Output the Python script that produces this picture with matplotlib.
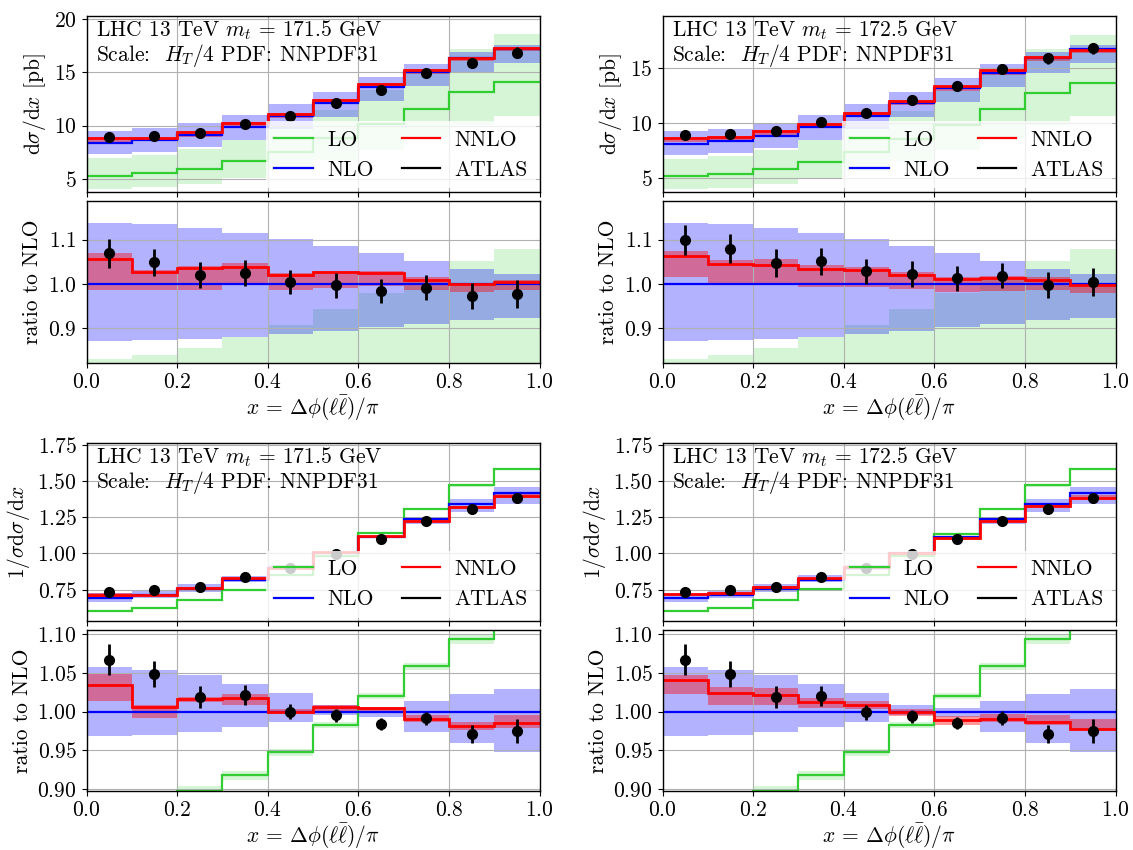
import numpy as np
import matplotlib
matplotlib.use("Agg")
from matplotlib import pyplot as plt
from matplotlib.lines import Line2D

plt.rcParams.update({
    'font.family': 'serif',
    'font.serif': ['cmr10'],
    'mathtext.fontset': 'cm',
    'axes.formatter.use_mathtext': True,
    'font.size': 15.5,
    'axes.linewidth': 1.0,
})

bin_edges = [0.0, 0.1, 0.2, 0.3, 0.4, 0.5, 0.6, 0.7, 0.8, 0.9, 1.0]

# ATLAS measurement
atlas_xsec = [8.95, 9.04, 9.28, 10.10, 10.93, 12.08, 13.37, 14.90, 15.90, 16.82]
atlas_xsec_err = [0.27, 0.27, 0.27, 0.29, 0.30, 0.34, 0.37, 0.42, 0.47, 0.53]
atlas_norm = [0.735, 0.745, 0.766, 0.834, 0.897, 0.996, 1.099, 1.227, 1.306, 1.382]
atlas_norm_err = [0.014, 0.012, 0.011, 0.0105, 0.0085, 0.0085, 0.0085, 0.011, 0.016, 0.022]

# absolute dsigma/dx, NLO central [pb]
nlo_xsec_1715 = [8.37, 8.62, 9.09, 9.85, 10.88, 12.11, 13.57, 15.03, 16.33, 17.20]
nlo_xsec_1725 = [8.14, 8.37, 8.86, 9.61, 10.62, 11.81, 13.20, 14.62, 15.92, 16.73]
# everything else as ratio to NLO
xsec_nlo_up = [1.138, 1.135, 1.127, 1.116, 1.102, 1.085, 1.069, 1.051, 1.035, 1.022]
xsec_nlo_dn = [0.872, 0.873, 0.876, 0.880, 0.888, 0.894, 0.904, 0.911, 0.918, 0.924]
xsec_lo = [0.634, 0.641, 0.655, 0.676, 0.695, 0.728, 0.745, 0.771, 0.803, 0.818]
xsec_lo_up = [0.832, 0.841, 0.856, 0.881, 0.907, 0.944, 0.981, 1.012, 1.053, 1.079]
xsec_lo_dn = [0.486, 0.491, 0.502, 0.517, 0.532, 0.558, 0.571, 0.591, 0.616, 0.636]
xsec_nnlo_1715 = [1.056, 1.027, 1.036, 1.039, 1.021, 1.027, 1.025, 1.010, 1.001, 1.005]
xsec_nnlo_up_1715 = [1.071, 1.031, 1.041, 1.047, 1.025, 1.030, 1.029, 1.016, 1.002, 1.010]
xsec_nnlo_dn_1715 = [0.987, 0.987, 0.987, 0.999, 0.986, 0.992, 0.995, 0.987, 0.983, 0.986]
xsec_nnlo_1725 = [1.063, 1.046, 1.044, 1.035, 1.032, 1.020, 1.011, 1.013, 1.009, 0.998]
xsec_nnlo_up_1725 = [1.074, 1.054, 1.056, 1.043, 1.039, 1.028, 1.017, 1.018, 1.015, 1.003]
xsec_nnlo_dn_1725 = [1.015, 1.000, 0.998, 0.994, 0.994, 0.989, 0.983, 0.984, 0.986, 0.980]

# normalised 1/sigma dsigma/dx
nlo_norm_1715 = [0.689, 0.711, 0.752, 0.817, 0.897, 1.001, 1.117, 1.238, 1.345, 1.417]
nlo_norm_1725 = [0.689, 0.711, 0.752, 0.818, 0.898, 1.002, 1.116, 1.237, 1.345, 1.417]
norm_nlo_up = [1.057, 1.054, 1.047, 1.036, 1.024, 1.009, 1.005, 1.014, 1.023, 1.029]
norm_nlo_dn = [0.968, 0.970, 0.974, 0.980, 0.987, 0.996, 0.993, 0.974, 0.959, 0.948]
norm_lo = [0.868, 0.877, 0.897, 0.918, 0.948, 0.983, 1.020, 1.058, 1.094, 1.120]
norm_lo_up = [0.875, 0.884, 0.904, 0.924, 0.952, 0.987, 1.024, 1.062, 1.099, 1.126]
norm_lo_dn = [0.861, 0.870, 0.890, 0.912, 0.943, 0.979, 1.016, 1.054, 1.087, 1.114]
norm_nnlo_1715 = [1.034, 1.006, 1.016, 1.018, 1.000, 1.006, 1.004, 0.990, 0.981, 0.985]
norm_nnlo_up_1715 = [1.049, 1.008, 1.019, 1.023, 1.003, 1.009, 1.006, 0.996, 0.986, 0.996]
norm_nnlo_dn_1715 = [1.014, 0.992, 1.012, 1.009, 0.997, 0.999, 0.999, 0.986, 0.976, 0.979]
norm_nnlo_1725 = [1.040, 1.024, 1.021, 1.012, 1.009, 0.999, 0.989, 0.991, 0.987, 0.977]
norm_nnlo_up_1725 = [1.047, 1.031, 1.030, 1.017, 1.014, 1.003, 0.994, 0.997, 0.996, 0.991]
norm_nnlo_dn_1725 = [1.023, 1.009, 1.008, 1.004, 1.003, 0.994, 0.982, 0.986, 0.983, 0.976]

c_lo, c_nlo, c_nnlo = 'limegreen', 'blue', 'red'


def draw(ax, axr, nlo, lo, lo_up, lo_dn, nlo_up, nlo_dn, nnlo, nnlo_up, nnlo_dn,
         data, data_err, mass, ylabel, ylim, yticks, rlim, rticks):
    nlo = np.array(nlo)
    data = np.array(data)
    data_err = np.array(data_err)
    centers = 0.5 * (np.array(bin_edges[:-1]) + np.array(bin_edges[1:]))
    for a, scale in ((ax, nlo), (axr, np.ones_like(nlo))):
        a.stairs(np.array(lo_up) * scale, bin_edges, baseline=np.array(lo_dn) * scale,
                 fill=True, color=c_lo, alpha=0.2, lw=0)
        a.stairs(np.array(nlo_up) * scale, bin_edges, baseline=np.array(nlo_dn) * scale,
                 fill=True, color=c_nlo, alpha=0.3, lw=0)
        a.stairs(np.array(nnlo_up) * scale, bin_edges, baseline=np.array(nnlo_dn) * scale,
                 fill=True, color=c_nnlo, alpha=0.4, lw=0)
        a.stairs(np.array(lo) * scale, bin_edges, baseline=None, color=c_lo, lw=1.6, zorder=2)
        a.stairs(scale, bin_edges, baseline=None, color=c_nlo, lw=1.6, zorder=2)
        a.stairs(np.array(nnlo) * scale, bin_edges, baseline=None, color=c_nnlo, lw=2, zorder=2)
        if a is ax:
            a.errorbar(centers, data, yerr=data_err, fmt='o', color='k', ms=7,
                       elinewidth=2, capsize=0, zorder=5)
        else:
            a.errorbar(centers, data / nlo, yerr=data_err / nlo, fmt='o', color='k',
                       ms=7, elinewidth=2, capsize=0, zorder=5)
        a.set_xlim(0, 1)
        a.set_xticks([0.0, 0.2, 0.4, 0.6, 0.8, 1.0])
        a.grid(True)
    ax.set_ylim(*ylim)
    ax.set_yticks(yticks)
    axr.set_ylim(*rlim)
    axr.set_yticks(rticks)
    ax.tick_params(labelbottom=False)
    ax.set_ylabel(ylabel)
    axr.set_ylabel('ratio to NLO')
    axr.set_xlabel(r'$x$ = $\Delta\phi(\ell\bar{\ell})/\pi$', labelpad=1)
    ax.text(0.022, 0.985, 'LHC 13 TeV $m_t$ = %s GeV\nScale:  $H_T/4$ PDF: NNPDF31' % mass,
            transform=ax.transAxes, ha='left', va='top', linespacing=1.0)
    handles = [Line2D([], [], color=c_lo, lw=1.6), Line2D([], [], color=c_nlo, lw=1.6),
               Line2D([], [], color=c_nnlo, lw=1.6), Line2D([], [], color='k', lw=1.6)]
    leg = ax.legend(handles, ['LO', 'NLO', 'NNLO', 'ATLAS'], loc='lower right', ncol=2,
                    frameon=True, framealpha=0.8, edgecolor='none', fancybox=False,
                    borderaxespad=0.15, labelspacing=0.5, handlelength=1.8,
                    handletextpad=0.65, columnspacing=1.3)
    leg.set_zorder(10)


fig = plt.figure(figsize=(11.33, 8.5), dpi=100)
W, H = 1133.0, 850.0


def box(x0, x1, y0, y1):
    return [x0 / W, 1 - y1 / H, (x1 - x0) / W, (y1 - y0) / H]


cols = [(86.5, 539.5), (662.5, 1115.5)]
rows = [((15.7, 191.7), (201, 362.7)), ((442.5, 621), (630, 790.7))]

axes = {}
for i, (m, r) in enumerate(rows):
    for j, (x0, x1) in enumerate(cols):
        axm = fig.add_axes(box(x0, x1, *m))
        axr = fig.add_axes(box(x0, x1, *r))
        axes[(i, j)] = (axm, axr)

xsec_label = r'$\mathrm{d}\sigma/\mathrm{d}x$ [pb]'
norm_label = r'$1/\sigma\mathrm{d}\sigma/\mathrm{d}x$'

draw(*axes[(0, 0)], nlo_xsec_1715, xsec_lo, xsec_lo_up, xsec_lo_dn, xsec_nlo_up, xsec_nlo_dn,
     xsec_nnlo_1715, xsec_nnlo_up_1715, xsec_nnlo_dn_1715, atlas_xsec, atlas_xsec_err,
     '171.5', xsec_label, (3.8, 20.3), [5, 10, 15, 20], (0.823, 1.187), [0.9, 1.0, 1.1])
draw(*axes[(0, 1)], nlo_xsec_1725, xsec_lo, xsec_lo_up, xsec_lo_dn, xsec_nlo_up, xsec_nlo_dn,
     xsec_nnlo_1725, xsec_nnlo_up_1725, xsec_nnlo_dn_1725, atlas_xsec, atlas_xsec_err,
     '172.5', xsec_label, (3.75, 19.8), [5, 10, 15], (0.823, 1.187), [0.9, 1.0, 1.1])
draw(*axes[(1, 0)], nlo_norm_1715, norm_lo, norm_lo_up, norm_lo_dn, norm_nlo_up, norm_nlo_dn,
     norm_nnlo_1715, norm_nnlo_up_1715, norm_nnlo_dn_1715, atlas_norm, atlas_norm_err,
     '171.5', norm_label, (0.532, 1.769), [0.75, 1.0, 1.25, 1.5, 1.75],
     (0.898, 1.105), [0.90, 0.95, 1.00, 1.05, 1.10])
draw(*axes[(1, 1)], nlo_norm_1725, norm_lo, norm_lo_up, norm_lo_dn, norm_nlo_up, norm_nlo_dn,
     norm_nnlo_1725, norm_nnlo_up_1725, norm_nnlo_dn_1725, atlas_norm, atlas_norm_err,
     '172.5', norm_label, (0.532, 1.769), [0.75, 1.0, 1.25, 1.5, 1.75],
     (0.898, 1.105), [0.90, 0.95, 1.00, 1.05, 1.10])

fig.savefig('out.png', dpi=100)
